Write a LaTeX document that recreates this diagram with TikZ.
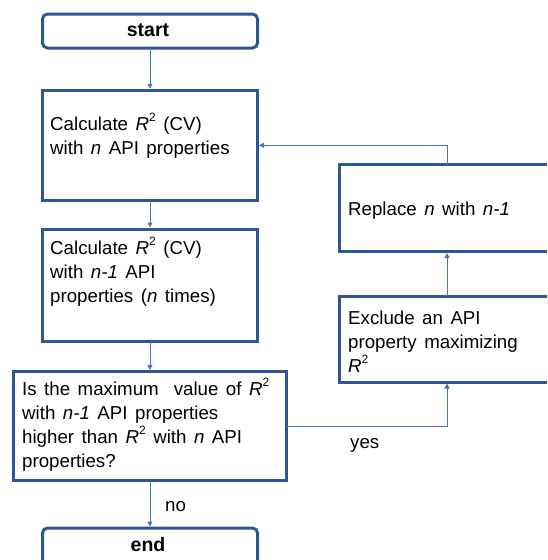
\documentclass[tikz,border=0pt]{standalone}
\usepackage{fontspec}
\setmainfont{Liberation Sans}
\usetikzlibrary{arrows.meta}
\definecolor{boxblue}{HTML}{2F5597}
\definecolor{linkblue}{HTML}{4472C4}
\newcommand{\flowfont}{\fontsize{18.7}{24}\selectfont\spaceskip=7.5pt plus 1pt\relax}
\newcommand{\sqR}{\textit{R}\raisebox{0.85ex}{\fontsize{12}{12}\selectfont 2}}
\tikzset{
  flowbox/.style={draw=boxblue, line width=3pt, inner sep=0pt, outer sep=0pt, fill=white},
  termbox/.style={flowbox, rounded corners=5pt},
  conn/.style={draw=linkblue, line width=1pt, -{Triangle[length=5pt,width=5pt]}, shorten >=1.5pt},
  txt/.style={font=\flowfont, align=left, inner sep=0pt, anchor=north west},
  lbl/.style={font=\flowfont, inner sep=0pt, anchor=base west},
  termtxt/.style={font=\fontsize{19.5}{24}\selectfont\bfseries, inner sep=0pt, anchor=base},
}
\begin{document}
\begin{tikzpicture}[x=1pt,y=-1pt]
\useasboundingbox (0,0) rectangle (547,560);
\clip (0,0) rectangle (547,560);
% boxes
\node[termbox, minimum width=215pt, minimum height=34pt] (start) at (150,31) {};
\node[flowbox, minimum width=215pt, minimum height=110pt] (box1) at (150,145.3) {};
\node[flowbox, minimum width=215pt, minimum height=112pt] (box2) at (150,285) {};
\node[flowbox, minimum width=272.5pt, minimum height=109pt] (dec) at (150,426) {};
\node[termbox, minimum width=215pt, minimum height=52pt] (end) at (150,554) {};
\node[flowbox, minimum width=261pt, minimum height=87pt] (replace) at (470,208) {};
\node[flowbox, minimum width=261pt, minimum height=86pt] (exclude) at (470,339) {};
% texts
\node[termtxt] (starttxt) at (148,36) {start};
\node[termtxt] (endtxt) at (148,551.5) {end};
\node[txt] (t1) at (50,113.2) {\strut Calculate \sqR{} (CV)\\with \textit{n} API properties};
\node[txt] (t2) at (50,237.2) {\strut Calculate \sqR{} (CV)\\with \textit{n-1} API\\properties (\textit{n} times)};
\node[txt] (t3) at (22,378.2) {\strut Is the maximum\ \ value of \sqR\\with \textit{n-1} API properties\\higher than \sqR{} with \textit{n} API\\properties?};
\node[lbl] (t4) at (348,215) {Replace \textit{n} with \textit{n-1}};
\node[txt] (t5) at (348,307.2) {\strut Exclude an API\\property maximizing\\\sqR};
\node[lbl] (yes) at (350,448) {yes};
\node[lbl] (no) at (165,511) {no};
% connectors
\coordinate (loopx) at (447,0);
\draw[conn] (start) -- (box1);
\draw[conn] (box1) -- (box2);
\draw[conn] (box2) -- (dec);
\draw[conn] (dec) -- (end);
\draw[conn] (dec.east) -| (exclude.south -| loopx);
\draw[conn] (exclude.north -| loopx) -- (replace.south -| loopx);
\draw[conn] (replace.north -| loopx) |- (box1.east);
\end{tikzpicture}
\end{document}
